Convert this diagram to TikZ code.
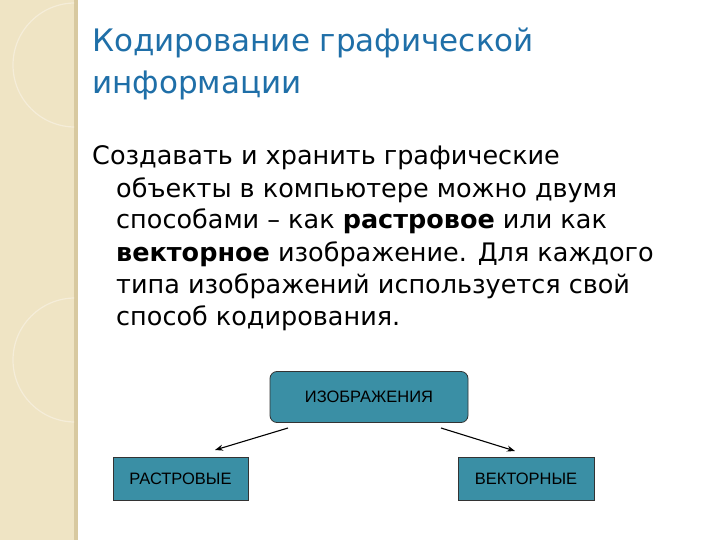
\documentclass[tikz,border=0pt]{standalone}
\usepackage{fontspec}
\usetikzlibrary{arrows.meta}
\setmainfont{DejaVu Sans}
\newfontfamily\arialf{Liberation Sans}
\definecolor{strip}{HTML}{EFE4C4}
\definecolor{stripd}{HTML}{D8C9A0}
\definecolor{titleblue}{HTML}{1F6FA8}
\definecolor{boxfill}{HTML}{3A8FA5}
\begin{document}
\begin{tikzpicture}[x=1pt,y=-1pt,
  box/.style={draw=black!80,fill=boxfill,line width=0.8pt,font=\arialf\fontsize{16.5}{18}\selectfont,inner sep=0pt},
  arr/.style={-{Stealth[length=8pt,width=6pt]},line width=1.1pt},
  txt/.style={anchor=base west,inner sep=0pt}]
\useasboundingbox (0,0) rectangle (720,540);
\fill[white] (0,0) rectangle (720,540);
\fill[strip] (0,0) rectangle (76,540);
\fill[stripd] (74,0) rectangle (78,540);
\begin{scope}
\clip (0,0) rectangle (74,540);
\draw[white!35!strip,line width=1.2pt] (75,65) circle (62);
\draw[white!35!strip,line width=1.2pt] (75,360) circle (62);
\end{scope}
\node[txt,text=titleblue,font=\fontsize{31}{34}\selectfont] (t1) at (92,52) {Кодирование графической};
\node[txt,text=titleblue,font=\fontsize{31}{34}\selectfont] (t2) at (92,94) {информации};
\begin{scope}[every node/.style={txt,font=\fontsize{25.5}{28}\selectfont}]
\node (b1) at (92,165) {Создавать и хранить графические};
\node (b2) at (116,197) {объекты в компьютере можно двумя};
\node (b3) at (116,229) {способами – как \textbf{растровое} или как};
\node (b4) at (116,261) {\textbf{векторное} изображение. Для каждого};
\node (b5) at (116,293) {типа изображений используется свой};
\node (b6) at (116,325) {способ кодирования.};
\end{scope}
\node[box,rounded corners=7pt,minimum width=198pt,minimum height=51pt] (top) at (369,397) {ИЗОБРАЖЕНИЯ};
\node[box,minimum width=135pt,minimum height=43pt] (left) at (180.5,478.5) {РАСТРОВЫЕ};
\node[box,minimum width=136pt,minimum height=43pt] (right) at (526,478.5) {ВЕКТОРНЫЕ};
\coordinate (a1) at (288,428);
\coordinate (a2) at (215,450);
\coordinate (a3) at (441,428);
\coordinate (a4) at (515,451);
\draw[arr] (a1) -- (a2);
\draw[arr] (a3) -- (a4);
\end{tikzpicture}
\end{document}
